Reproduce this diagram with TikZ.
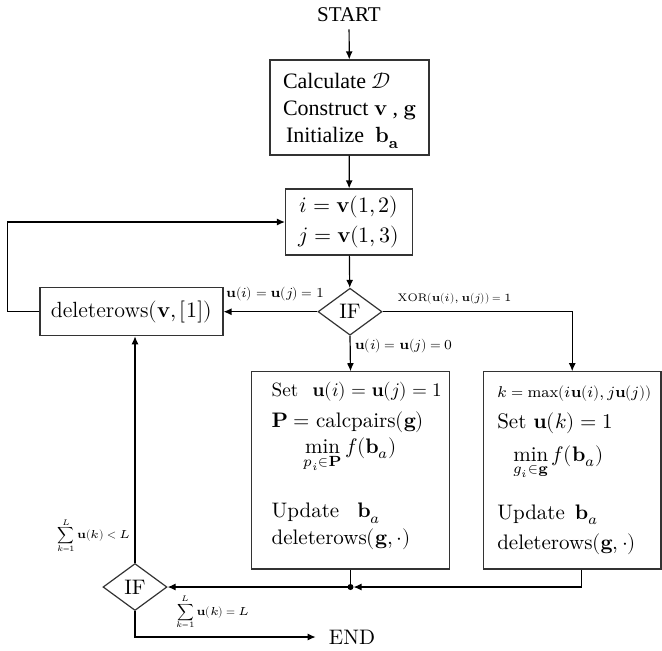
\documentclass[tikz,border=0pt]{standalone}
\usepackage{amsmath}
\usepackage{fontspec}
\usepackage{unicode-math}
\setmathfont{Latin Modern Math}
\newfontfamily\timesfont{Liberation Serif}
\usetikzlibrary{shapes.geometric,arrows.meta}
\tikzset{
  box/.style={draw=black!80,rectangle,inner sep=0pt},
  cond/.style={draw=black!80,diamond,inner sep=0pt,minimum width=32pt,minimum height=23.5pt},
  txt/.style={inner sep=0pt,align=left,anchor=north west},
  lbl/.style={font=\fontsize{6.9}{8.3}\selectfont,inner sep=2pt},
  sumlbl/.style={font=\fontsize{5.8}{7}\selectfont,inner sep=2pt},
  tms/.style={font=\fontsize{11}{13.2}\timesfont}
}
\begin{document}
\begin{tikzpicture}[x=0.5pt,y=-0.5pt,line width=0.6pt,>={Latex[length=4pt,width=3.5pt]},
  font=\fontsize{10.5}{12.6}\selectfont]
\useasboundingbox (0,0) rectangle (662,650);
\node[font=\fontsize{10.5}{12.6}\timesfont] (s) at (349,15) {START};
\node[box,tms,minimum width=79.5pt,minimum height=47.5pt,align=left] (ini) at (349.5,107.5)
  {\rule{0pt}{11pt}Calculate $\mathcal{D}$\\[0.4pt]Construct $\mathbf{v}$ , $\mathbf{g}$\\[0.2pt]\hspace*{1.5pt}Initialize\ \ $\mathbf{b_a}$};
\node[box,font=\fontsize{11}{13.2}\selectfont,minimum width=63.5pt,minimum height=33pt,align=center] (ij) at (349,222)
  {$i=\mathbf{v}(1,2)$\\[1.8pt]$j=\mathbf{v}(1,3)$};
\node[cond] (if1) at (350,311.7) {IF};
\node[box,font=\fontsize{11}{13.2}\selectfont,minimum width=91.5pt,minimum height=24pt] (del) at (131.4,311.7) {deleterows$(\mathbf{v},[1])$};
\node[box,minimum width=98.8pt,minimum height=98.6pt] (m) at (350.5,470.4) {};
\node[txt] (mt) at (271,382)
  {{\fontsize{9.6}{11.5}\selectfont Set\hspace{7pt}$\mathbf{u}(i)=\mathbf{u}(j)=1$}\\[2.6pt]
   $\mathbf{P}=\mathrm{calcpairs}(\mathbf{g})$\\[0.4pt]
   \hspace*{16pt}$\displaystyle\min_{p_i\in\mathbf{P}} f(\mathbf{b}_a)$\\[14pt]
   Update\hspace{9pt}$\mathbf{b}_a$\\[0.9pt]
   deleterows$(\mathbf{g},\cdot)$};
\node[box,minimum width=88.85pt,minimum height=98.6pt] (r) at (572.2,470.4) {};
\node[txt] (rt) at (496.7,385)
  {{\fontsize{7.8}{9.4}\selectfont $k=\max(i\mathbf{u}(i),j\mathbf{u}(j))$}\\[2.9pt]
   Set $\mathbf{u}(k)=1$\\[3.9pt]
   \hspace*{8pt}$\displaystyle\min_{g_i\in\mathbf{g}} f(\mathbf{b}_a)$\\[11.2pt]
   Update\hspace{5pt}$\mathbf{b}_a$\\[2.8pt]
   deleterows$(\mathbf{g},\cdot)$};
\coordinate (j) at (350.5,587);
\node[cond] (if2) at (135,587) {IF};
\node (e) at (352,637) {END};
\draw[->] (s) -- (ini);
\draw[->] (ini) -- (ij);
\draw[->] (ij) -- (if1);
\draw[->] (if1) -- node[lbl,above=3pt,pos=0.45] {$\mathbf{u}(i)=\mathbf{u}(j)=1$} (del);
\draw[->] (del.west) -- ++(-32,0) |- (ij.west);
\draw[->] (if1.east) -| node[lbl,font=\fontsize{5.5}{6.6}\selectfont,above=1.5pt,pos=0.19] {$\mathrm{XOR}(\mathbf{u}(i),\mathbf{u}(j))=1$} (r.north);
\draw[->] (if1.south) -- node[lbl,right,pos=0.29] {$\mathbf{u}(i)=\mathbf{u}(j)=0$} (m.north);
\draw (m.south) -- (j);
\draw[->,shorten >=1.5pt] ([xshift=4.5pt]r.south) |- (j);
\fill (j) circle (1.5pt);
\draw[->] (j) -- (if2);
\draw[->] (if2) -- node[sumlbl,left,pos=0.12] {$\displaystyle\sum_{k=1}^{L}\mathbf{u}(k)<L$} (if2 |- del.south);
\draw[->,shorten >=3pt] (if2.south) |- node[sumlbl,above=1.5pt,pos=0.71] {$\displaystyle\sum_{k=1}^{L}\mathbf{u}(k)=L$} (e);
\end{tikzpicture}
\end{document}
